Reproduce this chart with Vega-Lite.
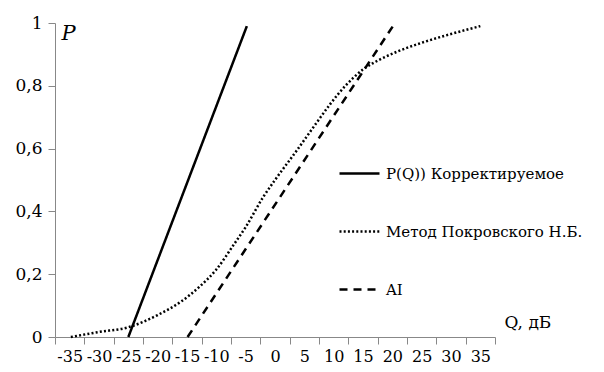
{
  "$schema": "https://vega.github.io/schema/vega-lite/v6.json",
  "width": 440,
  "height": 314,
  "autosize": "none",
  "padding": {"left": 55, "top": 23, "right": 109, "bottom": 35},
  "background": "white",
  "config": {
    "view": {"stroke": null},
    "font": "DejaVu Serif",
    "axis": {"grid": false, "domainColor": "#888888", "tickColor": "#888888", "labelColor": "black", "titleColor": "black", "labelFont": "DejaVu Serif", "titleFont": "DejaVu Serif", "titleFontWeight": "normal"},
    "legend": {"labelFont": "DejaVu Serif"}
  },
  "data": {
    "values": [
      {"series": "A", "Q": -25.0, "P": 0.0},
      {"series": "A", "Q": -4.8, "P": 0.99},
      {"series": "B", "Q": -34.8, "P": 0.0},
      {"series": "B", "Q": -30, "P": 0.016},
      {"series": "B", "Q": -25, "P": 0.031},
      {"series": "B", "Q": -20, "P": 0.07},
      {"series": "B", "Q": -16, "P": 0.113},
      {"series": "B", "Q": -13, "P": 0.158},
      {"series": "B", "Q": -10, "P": 0.215},
      {"series": "B", "Q": -7, "P": 0.295},
      {"series": "B", "Q": -5, "P": 0.35},
      {"series": "B", "Q": -2, "P": 0.446},
      {"series": "B", "Q": 0, "P": 0.5},
      {"series": "B", "Q": 3.75, "P": 0.595},
      {"series": "B", "Q": 7, "P": 0.68},
      {"series": "B", "Q": 9.5, "P": 0.744},
      {"series": "B", "Q": 12, "P": 0.80},
      {"series": "B", "Q": 15, "P": 0.852},
      {"series": "B", "Q": 18, "P": 0.885},
      {"series": "B", "Q": 21, "P": 0.91},
      {"series": "B", "Q": 25, "P": 0.937},
      {"series": "B", "Q": 30, "P": 0.965},
      {"series": "B", "Q": 35, "P": 0.99},
      {"series": "C", "Q": -14.9, "P": 0.0},
      {"series": "C", "Q": 20.1, "P": 0.99}
    ]
  },
  "mark": {"type": "line", "color": "black", "strokeWidth": 2.5, "clip": false, "interpolate": "monotone"},
  "encoding": {
    "x": {
      "field": "Q", "type": "quantitative",
      "scale": {"domain": [-37.5, 37.5], "nice": false, "zero": false},
      "axis": {
        "values": [-37.5, -32.5, -27.5, -22.5, -17.5, -12.5, -7.5, -2.5, 2.5, 7.5, 12.5, 17.5, 22.5, 27.5, 32.5, 37.5],
        "labelExpr": "datum.value < 37 ? '' + (datum.value + 2.5) : ''",
        "labelOffset": 14.67,
        "labelFontSize": 16,
        "labelPadding": 4,
        "tickSize": 7,
        "labelFlush": false,
        "labelOverlap": false,
        "title": "Q, дБ",
        "titleFontSize": 17,
        "titleAlign": "left",
        "titleBaseline": "middle",
        "titleX": 449,
        "titleY": -15
      }
    },
    "y": {
      "field": "P", "type": "quantitative",
      "scale": {"domain": [0, 1], "nice": false},
      "axis": {
        "values": [0, 0.2, 0.4, 0.6, 0.8, 1],
        "labelExpr": "replace('' + datum.value, '.', ',')",
        "labelFontSize": 17,
        "labelPadding": 6,
        "tickSize": 7,
        "labelFlush": false,
        "labelOverlap": false,
        "title": "P",
        "titleFontStyle": "italic",
        "titleFontSize": 21,
        "titleAngle": 0,
        "titleAlign": "left",
        "titleBaseline": "top",
        "titleX": 6,
        "titleY": -1
      }
    },
    "strokeDash": {
      "field": "series", "type": "nominal",
      "scale": {"domain": ["A", "B", "C"], "range": [[1, 0], [2, 2.2], [8, 6]]},
      "legend": {
        "orient": "none",
        "legendX": 283,
        "legendY": 129,
        "title": null,
        "padding": 0,
        "symbolType": "stroke",
        "symbolSize": 1600,
        "symbolStrokeWidth": 2.5,
        "symbolStrokeColor": "black",
        "labelFontSize": 15,
        "labelColor": "black",
        "labelOffset": 5,
        "labelLimit": 400,
        "rowPadding": 28,
        "labelExpr": "datum.value == 'A' ? 'P(Q))  Корректируемое' : datum.value == 'B' ? 'Метод Покровского  Н.Б.' : 'AI'"
      }
    }
  }
}
